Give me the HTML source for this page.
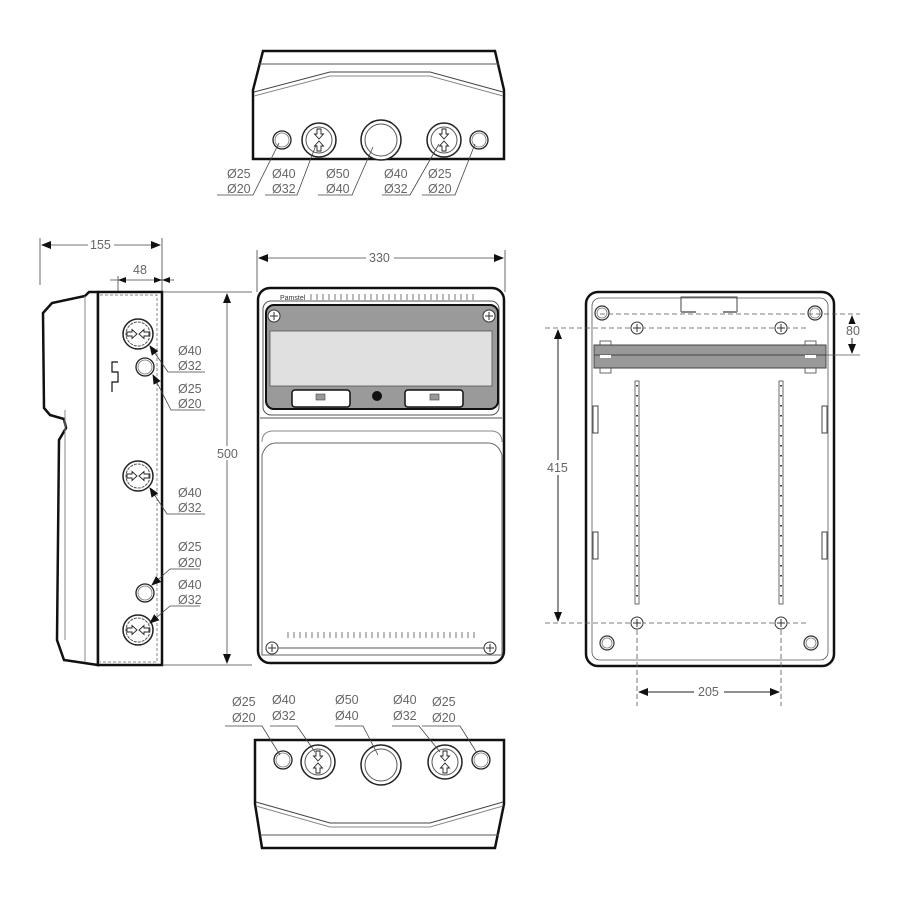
<!DOCTYPE html>
<html><head><style>
html,body{margin:0;padding:0;background:#fff;}
svg{display:block;}
text{font-family:"Liberation Sans",sans-serif;font-size:12.5px;fill:#666;}
</style></head><body>
<svg width="900" height="900" viewBox="0 0 900 900" xmlns="http://www.w3.org/2000/svg">
<defs>
<marker id="ar" markerWidth="10" markerHeight="8" refX="9" refY="4" orient="auto-start-reverse" markerUnits="userSpaceOnUse">
<path d="M0,0 L10,4 L0,8 Z" fill="#111"/></marker>
<g id="kno">
<circle r="17" fill="#fff" stroke="#222" stroke-width="1.5"/>
<circle r="13" fill="none" stroke="#555" stroke-width="1"/>
<path d="M-2,-11 h4 v5 h2.5 l-4.5,5 l-4.5,-5 h2.5 Z M-2,11 h4 v-5 h2.5 l-4.5,-5 l-4.5,5 h2.5 Z" fill="#fff" stroke="#222" stroke-width="0.9"/>
</g>
<g id="knoh">
<circle r="15" fill="#fff" stroke="#222" stroke-width="1.5"/>
<circle r="12" fill="none" stroke="#555" stroke-width="1" stroke-dasharray="3 1"/>
<path d="M-11,-2 v4 h5 v2.5 l5,-4.5 l-5,-4.5 v2.5 Z M11,-2 v4 h-5 v2.5 l-5,-4.5 l5,-4.5 v2.5 Z" fill="#fff" stroke="#222" stroke-width="0.9"/>
</g>
<g id="sm"><circle r="9" fill="#fff" stroke="#222" stroke-width="1.3"/><circle r="7" fill="none" stroke="#777" stroke-width="0.8"/></g>
<g id="big"><circle r="20" fill="#fff" stroke="#222" stroke-width="1.5"/><circle r="16" fill="none" stroke="#555" stroke-width="1"/></g>
<g id="screw"><circle r="6" fill="#fff" stroke="#333" stroke-width="1"/><path d="M-4,0h8M0,-4v8" stroke="#333" stroke-width="1"/></g>
<g id="hole"><circle r="7" fill="#fff" stroke="#333" stroke-width="1.2"/><circle r="5" fill="none" stroke="#777" stroke-width="0.8"/></g>
</defs>

<!-- TOP VIEW -->
<g>
<path d="M263,51 L495,51 L504,90 L504,159 L253,159 L253,90 Z" fill="#fff" stroke="#111" stroke-width="2.5"/>
<line x1="258" y1="64" x2="499" y2="64" stroke="#555"/>
<path d="M254,92 L330,72 L430,72 L503,92" fill="none" stroke="#444" stroke-width="1"/>
<path d="M254,96 L330,76 L430,76 L503,96" fill="none" stroke="#888" stroke-width="1"/>
<use href="#sm" x="282" y="140"/>
<use href="#kno" x="319" y="140"/>
<use href="#big" x="381" y="140"/>
<use href="#kno" x="444" y="140"/>
<use href="#sm" x="479" y="140"/>
<g stroke="#444" stroke-width="0.8" fill="none">
<path d="M217,195 H253 L279,143"/>
<path d="M265,195 H297 L316,145"/>
<path d="M318,195 H352 L373,147"/>
<path d="M382,195 H410 L439,144"/>
<path d="M422,195 H455 L475,144"/>
</g>
<text x="227" y="178">Ø25</text><text x="227" y="193">Ø20</text>
<text x="272" y="178">Ø40</text><text x="272" y="193">Ø32</text>
<text x="326" y="178">Ø50</text><text x="326" y="193">Ø40</text>
<text x="384" y="178">Ø40</text><text x="384" y="193">Ø32</text>
<text x="428" y="178">Ø25</text><text x="428" y="193">Ø20</text>
</g>

<!-- SIDE VIEW -->
<g>
<line x1="40" y1="238" x2="40" y2="285" stroke="#444" stroke-width="0.8"/>
<line x1="162" y1="238" x2="162" y2="292" stroke="#444" stroke-width="0.8"/>
<line x1="42" y1="245" x2="160" y2="245" stroke="#444" stroke-width="0.8" marker-start="url(#ar)" marker-end="url(#ar)"/>
<rect x="88" y="238" width="26" height="14" fill="#fff"/>
<text x="90" y="249">155</text>
<line x1="118" y1="276" x2="118" y2="360" stroke="#444" stroke-width="0.8"/>
<line x1="110" y1="280" x2="174" y2="280" stroke="#444" stroke-width="0.8"/>
<path d="M118,280 l8,-3 v6Z M162,280 l-8,-3 v6Z M162,280 l8,-3 v6Z" fill="#111"/>
<text x="133" y="274">48</text>
<path d="M98,292 L89,292 L85,296 L52,303 L43,313 L44,408 L50,415 L64,419 L66,428 L59,440 L57,640 L64,660 L98,665 Z" fill="#fff" stroke="#111" stroke-width="2.5"/>
<line x1="85" y1="296" x2="85" y2="662" stroke="#888" stroke-width="1"/>
<line x1="65" y1="410" x2="65" y2="640" stroke="#888" stroke-width="1"/>
<rect x="98" y="292" width="64" height="373" fill="#fff" stroke="#111" stroke-width="2.5"/>
<path d="M100,295 H157 V662 H100" fill="none" stroke="#666" stroke-width="0.8" stroke-dasharray="3 2"/>
<path d="M118,362 h-6 v10 h6 v10 h-6 v10" fill="none" stroke="#111" stroke-width="1.2"/>
<use href="#knoh" x="138" y="334"/>
<use href="#sm" x="145" y="367"/>
<use href="#knoh" x="138" y="476"/>
<use href="#sm" x="145" y="593"/>
<use href="#knoh" x="138" y="630"/>
<g stroke="#444" stroke-width="0.8" fill="none">
<path d="M205,372 H168 L150,346" marker-end="url(#ar)"/>
<path d="M205,410 H171 L153,375" marker-end="url(#ar)"/>
<path d="M205,514 H167 L150,488" marker-end="url(#ar)"/>
<path d="M200,569 H170 L152,585" marker-end="url(#ar)"/>
<path d="M200,606 H170 L150,623" marker-end="url(#ar)"/>
</g>
<text x="178" y="355">Ø40</text><text x="178" y="370">Ø32</text>
<text x="178" y="393">Ø25</text><text x="178" y="408">Ø20</text>
<text x="178" y="497">Ø40</text><text x="178" y="512">Ø32</text>
<text x="178" y="551">Ø25</text><text x="178" y="567">Ø20</text>
<text x="178" y="589">Ø40</text><text x="178" y="604">Ø32</text>
<line x1="162" y1="292" x2="252" y2="292" stroke="#444" stroke-width="0.8"/>
<line x1="162" y1="665" x2="252" y2="665" stroke="#444" stroke-width="0.8"/>
<line x1="227" y1="294" x2="227" y2="663" stroke="#444" stroke-width="0.8" marker-start="url(#ar)" marker-end="url(#ar)"/>
<rect x="215" y="446" width="26" height="14" fill="#fff"/>
<text x="217" y="458">500</text>
</g>

<!-- FRONT VIEW -->
<g>
<line x1="257" y1="250" x2="257" y2="292" stroke="#444" stroke-width="0.8"/>
<line x1="505" y1="250" x2="505" y2="292" stroke="#444" stroke-width="0.8"/>
<line x1="259" y1="258" x2="503" y2="258" stroke="#444" stroke-width="0.8" marker-start="url(#ar)" marker-end="url(#ar)"/>
<rect x="366" y="251" width="28" height="14" fill="#fff"/>
<text x="369" y="262">330</text>
<rect x="258" y="288" width="246" height="375" rx="12" fill="#fff" stroke="#111" stroke-width="2.5"/>
<rect x="263" y="301" width="236" height="114" rx="8" fill="none" stroke="#555" stroke-width="1"/>
<text x="280" y="300" style="font-size:7px;fill:#333">Pamstel</text>
<path d="M311,294v6M317,294v6M323,294v6M329,294v6M335,294v6M341,294v6M347,294v6M353,294v6M359,294v6M365,294v6M371,294v6M377,294v6M383,294v6M389,294v6M395,294v6M401,294v6M407,294v6M413,294v6M419,294v6M425,294v6M431,294v6M437,294v6M443,294v6M449,294v6M455,294v6M461,294v6M467,294v6M473,294v6" stroke="#555" stroke-width="0.8"/>
<rect x="266" y="305" width="232" height="104" rx="8" fill="#9a9a9a" stroke="#111" stroke-width="2"/>
<rect x="270" y="331" width="222" height="55" fill="#e0e0e0" stroke="#555" stroke-width="0.8"/>
<use href="#screw" x="274" y="316"/>
<use href="#screw" x="489" y="316"/>
<rect x="292" y="390" width="58" height="17" rx="3" fill="#fff" stroke="#111" stroke-width="1.5"/>
<rect x="405" y="390" width="58" height="17" rx="3" fill="#fff" stroke="#111" stroke-width="1.5"/>
<rect x="316" y="394" width="9" height="6" fill="#999" stroke="#444" stroke-width="0.6"/>
<rect x="430" y="394" width="9" height="6" fill="#999" stroke="#444" stroke-width="0.6"/>
<circle cx="377" cy="396" r="5" fill="#111"/>
<line x1="260" y1="418" x2="502" y2="418" stroke="#555"/>
<path d="M262,442 Q262,432 272,431 H492 Q502,432 502,442" fill="none" stroke="#888"/>
<path d="M262,455 Q266,443 276,443 H488 Q498,443 502,455 V655 H262 Z" fill="none" stroke="#666"/>
<path d="M288,632v6M294,632v6M300,632v6M306,632v6M312,632v6M318,632v6M324,632v6M330,632v6M336,632v6M342,632v6M348,632v6M354,632v6M360,632v6M366,632v6M372,632v6M378,632v6M384,632v6M390,632v6M396,632v6M402,632v6M408,632v6M414,632v6M420,632v6M426,632v6M432,632v6M438,632v6M444,632v6M450,632v6M456,632v6M462,632v6M468,632v6M474,632v6" stroke="#555" stroke-width="0.8"/>
<line x1="276" y1="648" x2="486" y2="648" stroke="#555"/>
<use href="#screw" x="272" y="648"/>
<use href="#screw" x="490" y="648"/>
</g>

<!-- BACK VIEW -->
<g>
<rect x="586" y="292" width="248" height="374" rx="12" fill="#fff" stroke="#111" stroke-width="2.5"/>
<rect x="592" y="298" width="236" height="362" rx="8" fill="none" stroke="#555" stroke-width="0.8"/>
<path d="M681,312 V297 H737 V312" fill="none" stroke="#444"/>
<line x1="681" y1="312" x2="696" y2="312" stroke="#888" stroke-width="2"/>
<line x1="723" y1="312" x2="737" y2="312" stroke="#888" stroke-width="2"/>
<use href="#hole" x="602" y="313"/>
<use href="#hole" x="815" y="313"/>
<use href="#hole" x="607" y="643"/>
<use href="#hole" x="811" y="643"/>
<line x1="600" y1="314" x2="860" y2="314" stroke="#555" stroke-width="0.8" stroke-dasharray="5 3"/>
<line x1="545" y1="328" x2="808" y2="328" stroke="#555" stroke-width="0.8" stroke-dasharray="5 3"/>
<line x1="545" y1="623" x2="808" y2="623" stroke="#555" stroke-width="0.8" stroke-dasharray="5 3"/>
<line x1="826" y1="355" x2="860" y2="355" stroke="#555" stroke-width="0.8"/>
<use href="#screw" x="637" y="328"/>
<use href="#screw" x="781" y="328"/>
<use href="#screw" x="637" y="623"/>
<use href="#screw" x="781" y="623"/>
<rect x="600" y="341" width="11" height="32" fill="#fff" stroke="#444" stroke-width="0.8"/>
<rect x="805" y="341" width="11" height="32" fill="#fff" stroke="#444" stroke-width="0.8"/>
<rect x="594" y="345" width="232" height="23" fill="#999" stroke="#444" stroke-width="1"/>
<line x1="594" y1="355" x2="826" y2="355" stroke="#444"/>
<rect x="600" y="355" width="11" height="3" fill="#fff"/>
<rect x="805" y="355" width="11" height="3" fill="#fff"/>
<rect x="635" y="381" width="4" height="223" fill="#fff" stroke="#444" stroke-width="0.8"/>
<rect x="779" y="381" width="4" height="223" fill="#fff" stroke="#444" stroke-width="0.8"/>
<path d="M637,385V600M781,385V600" stroke="#444" stroke-width="2" stroke-dasharray="1.5 8.5"/>
<path d="M598,406 h-5 v27 h5 Z M598,532 h-5 v27 h5 Z M822,406 h5 v27 h-5 Z M822,532 h5 v27 h-5 Z" fill="#fff" stroke="#444"/>
<line x1="558" y1="330" x2="558" y2="621" stroke="#222" stroke-width="1" marker-start="url(#ar)" marker-end="url(#ar)"/>
<rect x="546" y="460" width="24" height="15" fill="#fff"/>
<text x="547" y="472">415</text>
<line x1="852" y1="316" x2="852" y2="353" stroke="#222" stroke-width="1" marker-start="url(#ar)" marker-end="url(#ar)"/>
<rect x="845" y="324" width="16" height="14" fill="#fff"/>
<text x="846" y="335">80</text>
<line x1="637" y1="630" x2="637" y2="706" stroke="#555" stroke-width="0.8" stroke-dasharray="5 3"/>
<line x1="781" y1="630" x2="781" y2="706" stroke="#555" stroke-width="0.8" stroke-dasharray="5 3"/>
<line x1="639" y1="692" x2="779" y2="692" stroke="#222" stroke-width="1" marker-start="url(#ar)" marker-end="url(#ar)"/>
<rect x="694" y="685" width="30" height="14" fill="#fff"/>
<text x="698" y="696">205</text>
</g>

<!-- BOTTOM VIEW -->
<g>
<path d="M255,740 L504,740 L504,804 L495,848 L262,848 L255,804 Z" fill="#fff" stroke="#111" stroke-width="2.5"/>
<path d="M256,802 L330,823 L430,823 L503,802" fill="none" stroke="#444"/>
<path d="M256,806 L330,827 L430,827 L503,806" fill="none" stroke="#888"/>
<line x1="260" y1="835" x2="499" y2="835" stroke="#555"/>
<use href="#sm" x="283" y="760"/>
<use href="#kno" x="318" y="762"/>
<use href="#big" x="381" y="765"/>
<use href="#kno" x="445" y="762"/>
<use href="#sm" x="481" y="760"/>
<g stroke="#444" stroke-width="0.8" fill="none">
<path d="M225,726 H262 L280,755"/>
<path d="M270,726 H297 L315,752"/>
<path d="M335,726 H363 L378,755"/>
<path d="M392,726 H419 L440,752"/>
<path d="M422,726 H460 L477,753"/>
</g>
<text x="232" y="706">Ø25</text><text x="232" y="722">Ø20</text>
<text x="272" y="704">Ø40</text><text x="272" y="720">Ø32</text>
<text x="335" y="704">Ø50</text><text x="335" y="720">Ø40</text>
<text x="393" y="704">Ø40</text><text x="393" y="720">Ø32</text>
<text x="432" y="706">Ø25</text><text x="432" y="722">Ø20</text>
</g>
</svg>
</body></html>
